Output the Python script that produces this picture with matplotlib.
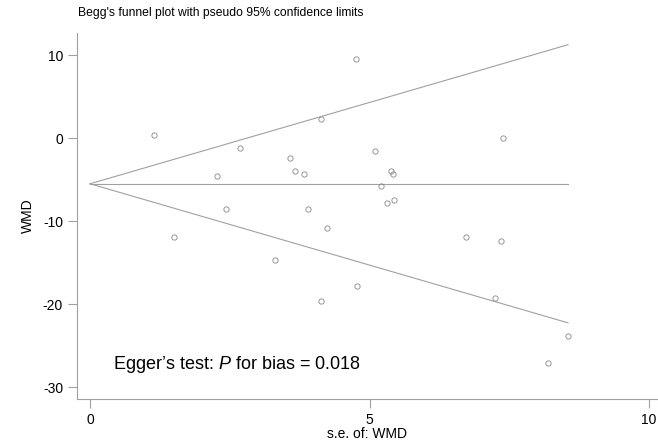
import numpy as np
import matplotlib
matplotlib.use('Agg')
import matplotlib.pyplot as plt

plt.rcParams['font.family'] = ['Liberation Sans', 'DejaVu Sans']
plt.rcParams['axes.unicode_minus'] = False
plt.rcParams['mathtext.fontset'] = 'custom'
plt.rcParams['mathtext.it'] = 'Liberation Sans:italic'
plt.rcParams['mathtext.rm'] = 'Liberation Sans'

# standard errors and effect sizes (WMD)
se = [1.14, 4.76, 4.13, 2.68, 3.58, 3.67, 3.83, 2.27, 2.43, 3.90, 5.09,
      7.38, 5.38, 5.42, 5.21, 5.31, 5.44, 1.50, 4.24, 3.31, 4.78, 4.13,
      6.73, 7.36, 7.25, 8.55, 8.19]
wmd = [0.36, 9.52, 2.29, -1.2, -2.37, -3.93, -4.3, -4.6, -8.5, -8.5, -1.57,
       -0.04, -3.93, -4.3, -5.78, -7.79, -7.43, -11.97, -10.84, -14.7, -17.83, -19.68,
       -11.97, -12.37, -19.32, -23.9, -27.07]
pooled = -5.5
se_max = 8.55

grey = '#a0a0a0'
fig = plt.figure(figsize=(6.58, 4.42), dpi=100)
ax = fig.add_axes([0.117, 0.097, 0.883, 0.828])

s = np.array([0, se_max])
ax.plot(s, pooled + 1.96 * s, color=grey, lw=0.8)
ax.plot(s, pooled - 1.96 * s, color=grey, lw=0.8)
ax.plot(s, [pooled, pooled], color=grey, lw=0.8)
ax.plot(se, wmd, 'o', mfc='none', mec='#888888', ms=3.8, mew=0.6)

ax.set_xlim(-0.233, 10.16)
ax.set_ylim(-31.45, 12.65)
ax.set_xticks([0, 5, 10])
ax.set_yticks([10, 0, -10, -20, -30])
for sp in ['top', 'right']:
    ax.spines[sp].set_visible(False)
for sp in ['left', 'bottom']:
    ax.spines[sp].set_color(grey)
ax.tick_params(direction='out', length=6.5, color=grey, labelsize=10, width=0.8)
ax.set_xlabel('s.e. of: WMD', fontsize=10, labelpad=0)
ax.set_ylabel('WMD', fontsize=10, labelpad=6)
ax.text(0.41, -27.3, "Egger\u2019s test: $P$ for bias = 0.018", fontsize=13, va='center')
fig.text(0.119, 0.97, "Begg's funnel plot with pseudo 95% confidence limits", fontsize=8.7, va='center')

fig.savefig('out.png', dpi=100)
